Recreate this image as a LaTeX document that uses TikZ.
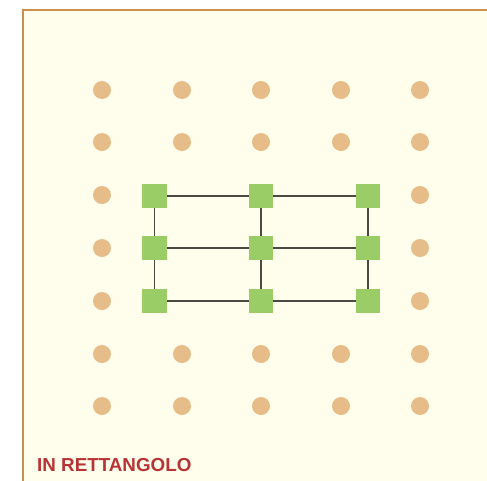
\documentclass[tikz,border=0pt]{standalone}
\usepackage{fontspec}
\setmainfont{Liberation Sans}
\definecolor{paper}{HTML}{FFFDEB}
\definecolor{frame}{HTML}{C8924E}
\definecolor{peg}{HTML}{E6BD89}
\definecolor{corner}{HTML}{9BCD66}
\definecolor{wire}{HTML}{4A4A42}
\definecolor{caption}{HTML}{B83434}
\begin{document}
\begin{tikzpicture}[x=1pt,y=-1pt,
  pegdot/.style={circle,fill=peg,inner sep=0pt,minimum size=18pt},
  cornerbox/.style={rectangle,fill=corner,inner sep=0pt,minimum size=24pt},
  wireline/.style={draw=wire,line width=1.3pt}]
  \useasboundingbox (0,0) rectangle (487,480);
  % board
  \fill[paper] (23,10) rectangle (490,483);
  \draw[frame,line width=1.5pt] (23,483) -- (23,10) -- (490,10);
  % grid of pegs, leaving out the ones covered by the rectangle
  \foreach \c/\x in {1/102,2/182,3/261,4/341,5/420}{
    \foreach \r/\y in {1/90,2/142,3/195,4/248,5/301,6/354,7/406}{
      \pgfmathtruncatemacro{\hidden}{(\c>1)*(\c<5)*(\r>2)*(\r<6)}
      \ifnum\hidden=0
        \node[pegdot] (p\c\r) at (\x,\y) {};
      \fi
    }
  }
  % rectangle corners and mid points
  \foreach \c/\x in {1/154.5,2/261,3/368}{
    \foreach \r/\y in {1/196,2/248,3/301}{
      \node[cornerbox] (s\c\r) at (\x,\y) {};
    }
  }
  % connecting segments
  \foreach \r in {1,2,3}{
    \draw[wireline] (s1\r.center) -- (s2\r.center) -- (s3\r.center);
  }
  \foreach \c in {1,2,3}{
    \draw[wireline] (s\c1.center) -- (s\c2.center) -- (s\c3.center);
  }
  % boxes drawn again over the segment ends
  \foreach \c in {1,2,3}{
    \foreach \r in {1,2,3}{
      \fill[corner] (s\c\r.south west) rectangle (s\c\r.north east);
    }
  }
  \node[anchor=base west,inner sep=0pt,text=caption,font=\bfseries\fontsize{18.8}{20}\selectfont] (title) at (37,471) {IN RETTANGOLO};
\end{tikzpicture}
\end{document}
